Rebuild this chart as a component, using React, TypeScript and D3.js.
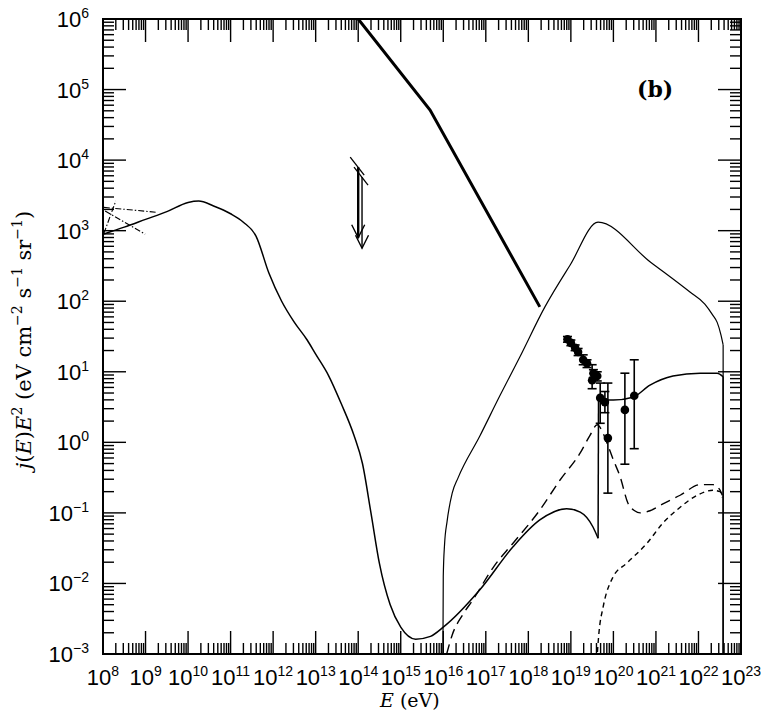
import React from 'react';
import * as d3 from 'd3';

const W = 761;
const H = 722;

const xTickExps = [8, 9, 10, 11, 12, 13, 14, 15, 16, 17, 18, 19, 20, 21, 22, 23];
const yTickExps = [-3, -2, -1, 0, 1, 2, 3, 4, 5, 6];

// all curves as [log10 E, log10 j(E)E^2]
const bgLow = [
  [8.0, 2.95], [8.5, 3.05], [9.0, 3.16], [9.5, 3.27], [10.0, 3.4], [10.25, 3.42],
  [10.6, 3.35], [11.0, 3.24], [11.3, 3.12], [11.6, 2.92], [11.9, 2.4], [12.2, 2.0],
  [12.5, 1.7], [12.8, 1.45], [13.0, 1.25], [13.3, 0.95], [13.6, 0.55], [13.9, 0.1],
  [14.1, -0.3], [14.3, -1.0], [14.5, -1.72], [14.75, -2.3], [15.0, -2.62], [15.35, -2.79],
  [15.7, -2.75], [16.0, -2.62], [16.86, -2.09], [17.64, -1.48], [18.27, -1.1], [18.9, -0.94],
  [19.22, -0.99], [19.52, -1.2], [19.64, -1.36],
];
const bgHigh = [
  [19.65, 0.6], [20.0, 0.6], [20.46, 0.64], [20.86, 0.81], [21.4, 0.94], [22.04, 0.98],
  [22.44, 0.98], [22.58, 0.93],
];
const triangle = [
  [15.99, -3.3], [16.0, -1.9], [16.03, -1.45], [16.09, -1.12], [16.21, -0.72], [16.35, -0.5],
  [16.86, 0.09], [17.33, 0.66], [17.8, 1.21], [18.39, 1.92], [18.98, 2.51], [19.64, 3.12],
  [20.86, 2.56], [21.8, 2.13], [22.15, 1.96], [22.34, 1.8], [22.44, 1.7], [22.53, 1.52],
  [22.58, 1.38],
];
const kneeLine = [[14.0, 6.0], [15.69, 4.71], [18.27, 1.92]];
const longDash = [
  [16.08, -3.0], [16.21, -2.73], [16.45, -2.45], [16.7, -2.23], [17.2, -1.75], [17.64, -1.43],
  [18.27, -0.96], [18.75, -0.53], [19.22, -0.15], [19.45, 0.1], [19.62, 0.25], [19.75, 0.14],
  [19.85, -0.01], [20.0, -0.25], [20.16, -0.49], [20.34, -0.86], [20.5, -0.97], [20.63, -1.0],
  [20.86, -0.97], [21.2, -0.86], [21.57, -0.75], [22.04, -0.6], [22.34, -0.6], [22.5, -0.67],
  [22.56, -0.75],
];
const shortDash = [
  [19.61, -3.1], [19.66, -2.7], [19.76, -2.33], [19.99, -1.91], [20.32, -1.71], [20.79, -1.43],
  [21.17, -1.14], [21.57, -0.92], [21.97, -0.75], [22.34, -0.68], [22.51, -0.7], [22.56, -0.78],
];
const egretLines = [
  [[8.02, 3.33], [9.27, 3.26]],
  [[8.05, 3.28], [8.99, 2.95]],
  [[8.02, 2.96], [8.3, 3.42]],
];
const limitE = [14.0, 14.09];
const limitTop = [3.9, 3.76];
const limitBottom = [2.9, 2.75];

const dataE = [18.92, 19.0, 19.1, 19.17, 19.29, 19.38, 19.5, 19.53, 19.62, 19.69, 19.8, 19.87, 20.27, 20.49];
const dataJ = [1.46, 1.41, 1.34, 1.28, 1.17, 1.12, 0.88, 0.98, 0.94, 0.63, 0.57, 0.06, 0.46, 0.66];
const dataHi = [1.5, 1.45, 1.38, 1.33, 1.24, 1.17, 1.1, 1.03, 1.0, 0.84, 0.72, 0.84, 0.98, 1.17];
const dataLo = [1.42, 1.37, 1.3, 1.23, 1.1, 1.06, 0.76, 0.92, 0.87, 0.27, 0.42, -0.72, -0.31, -0.09];

const x = d3.scaleLog().domain([1e8, 1e23]).range([103, 741]);
const y = d3.scaleLog().domain([1e-3, 1e6]).range([654, 19]);
const px = (e: number) => x(Math.pow(10, e));
const py = (j: number) => y(Math.pow(10, j));

const smooth = d3.line<number[]>().x(d => px(d[0])).y(d => py(d[1])).curve(d3.curveMonotoneX);
const straight = d3.line<number[]>().x(d => px(d[0])).y(d => py(d[1]));

export default function App() {
  const [x0, x1] = x.range();
  const [y0, y1] = y.range();
  const minorX: number[] = [];
  xTickExps.slice(0, -1).forEach(k => d3.range(2, 10).forEach(m => minorX.push(m * Math.pow(10, k))));
  const minorY: number[] = [];
  yTickExps.slice(0, -1).forEach(k => d3.range(2, 10).forEach(m => minorY.push(m * Math.pow(10, k))));
  const major = 23;
  const minor = 11;
  const fmt = (k: number) => (k < 0 ? '\u2212' + Math.abs(k) : String(k));

  return (
    <svg width={W} height={H} style={{ position: 'absolute', left: 0, top: 0, background: '#fff' }}>
      <defs>
        <clipPath id="plot">
          <rect x={x0} y={y1} width={x1 - x0} height={y0 - y1} />
        </clipPath>
      </defs>

      <g stroke="#000" strokeWidth={1.4}>
        {xTickExps.map(k => {
          const v = x(Math.pow(10, k));
          return (
            <g key={'xm' + k}>
              <line x1={v} x2={v} y1={y0} y2={y0 - major} />
              <line x1={v} x2={v} y1={y1} y2={y1 + major} />
            </g>
          );
        })}
        {minorX.map((m, i) => (
          <g key={'xn' + i}>
            <line x1={x(m)} x2={x(m)} y1={y0} y2={y0 - minor} />
            <line x1={x(m)} x2={x(m)} y1={y1} y2={y1 + minor} />
          </g>
        ))}
        {yTickExps.map(k => {
          const v = y(Math.pow(10, k));
          return (
            <g key={'ym' + k}>
              <line x1={x0} x2={x0 + major} y1={v} y2={v} />
              <line x1={x1} x2={x1 - major} y1={v} y2={v} />
            </g>
          );
        })}
        {minorY.map((m, i) => (
          <g key={'yn' + i}>
            <line x1={x0} x2={x0 + minor} y1={y(m)} y2={y(m)} />
            <line x1={x1} x2={x1 - minor} y1={y(m)} y2={y(m)} />
          </g>
        ))}
      </g>
      <rect x={x0} y={y1} width={x1 - x0} height={y0 - y1} fill="none" stroke="#000" strokeWidth={2} />

      <g fontFamily="Liberation Sans, Arial, sans-serif" fontSize={22} fill="#000">
        {xTickExps.map(k => (
          <text key={'xl' + k} x={x(Math.pow(10, k))} y={685} textAnchor="middle">
            10<tspan dy={-9} fontSize={14}>{fmt(k)}</tspan>
          </text>
        ))}
        {yTickExps.map(k => (
          <text key={'yl' + k} x={89} y={y(Math.pow(10, k)) + 8} textAnchor="end">
            10<tspan dy={-9} fontSize={14}>{fmt(k)}</tspan>
          </text>
        ))}
      </g>

      <g clipPath="url(#plot)" fill="none" stroke="#000">
        <path d={smooth(bgLow) || ''} strokeWidth={1.5} />
        <path d={straight([bgLow[bgLow.length - 1], bgHigh[0]]) || ''} strokeWidth={1.5} />
        <path d={smooth(bgHigh) || ''} strokeWidth={1.5} />
        <path d={straight([bgHigh[bgHigh.length - 1], [22.58, -3.5]]) || ''} strokeWidth={1.5} />
        <path d={smooth(triangle) || ''} strokeWidth={1.2} />
        <path d={straight([triangle[triangle.length - 1], [22.58, -3.5]]) || ''} strokeWidth={1.2} />
        <path d={straight(kneeLine) || ''} strokeWidth={3} />
        <path d={smooth(longDash) || ''} strokeWidth={1.4} strokeDasharray="10 6" />
        <path d={smooth(shortDash) || ''} strokeWidth={1.4} strokeDasharray="5 4" />
        {egretLines.map((l, i) => (
          <path key={'eg' + i} d={straight(l) || ''} strokeWidth={1.1} strokeDasharray="6 2 1.5 2" />
        ))}
        {limitE.map((e, i) => {
          const cx = px(e);
          const t = py(limitTop[i]);
          const b = py(limitBottom[i]);
          return (
            <g key={'lim' + i} strokeWidth={i === 0 ? 2.4 : 1.4}>
              <line x1={cx} x2={cx} y1={t} y2={b} />
              <line x1={cx - 8} x2={cx + 6} y1={t - 10} y2={t + 8} strokeWidth={1.3} />
              <path d={`M${cx - 6.5},${b - 13}L${cx},${b}L${cx + 6.5},${b - 13}`} strokeWidth={1.4} />
            </g>
          );
        })}
        {dataE.map((e, i) => {
          const cx = px(e);
          return (
            <g key={'pt' + i} strokeWidth={1.6}>
              <line x1={cx} x2={cx} y1={py(dataHi[i])} y2={py(dataLo[i])} />
              <line x1={cx - 4.5} x2={cx + 4.5} y1={py(dataHi[i])} y2={py(dataHi[i])} />
              <line x1={cx - 4.5} x2={cx + 4.5} y1={py(dataLo[i])} y2={py(dataLo[i])} />
              <circle cx={cx} cy={py(dataJ[i])} r={4.3} fill="#000" stroke="none" />
            </g>
          );
        })}
      </g>

      <text x={637} y={97} fontFamily="DejaVu Serif, serif" fontWeight="bold" fontSize={22}>(b)</text>

      <text x={380} y={707} fontFamily="DejaVu Serif, serif" fontSize={19}>
        <tspan fontStyle="italic">E</tspan> (eV)
      </text>

      <text transform="translate(31,340) rotate(-90)" textAnchor="middle" fontFamily="DejaVu Serif, serif" fontSize={21}>
        <tspan fontStyle="italic">j</tspan>(<tspan fontStyle="italic">E</tspan>)<tspan fontStyle="italic">E</tspan>
        <tspan dy={-9} fontSize={14}>2</tspan>
        <tspan dy={9}> (eV cm</tspan>
        <tspan dy={-9} fontSize={14}>{'\u22122'}</tspan>
        <tspan dy={9}> s</tspan>
        <tspan dy={-9} fontSize={14}>{'\u22121'}</tspan>
        <tspan dy={9}> sr</tspan>
        <tspan dy={-9} fontSize={14}>{'\u22121'}</tspan>
        <tspan dy={9}>)</tspan>
      </text>
    </svg>
  );
}
